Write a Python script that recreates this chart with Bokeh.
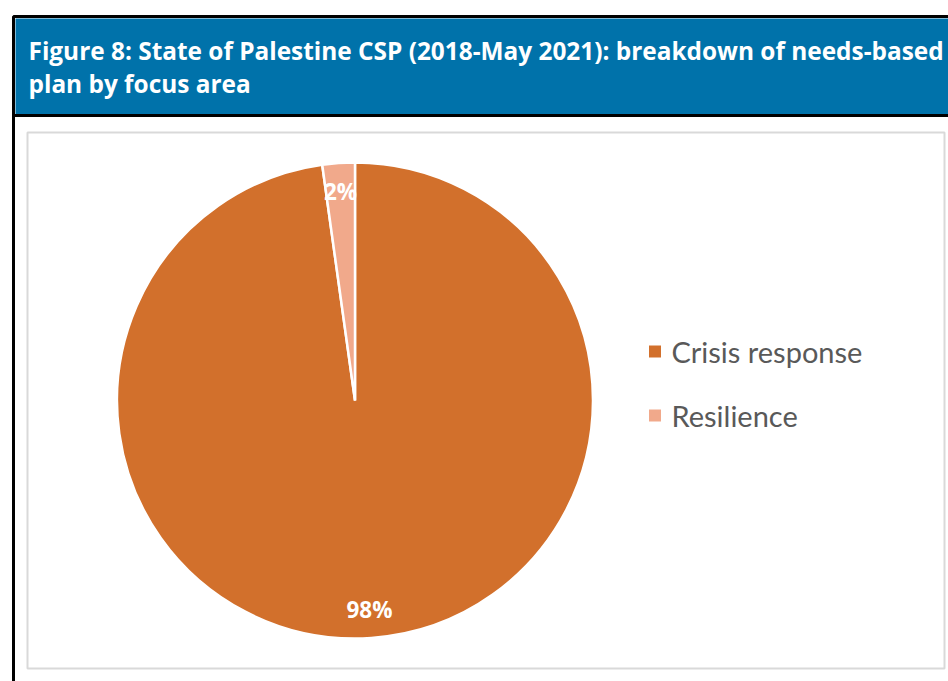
import math
from bokeh.plotting import figure
from bokeh.models import Range1d, ColumnDataSource
from bokeh.core.properties import value
from bokeh.embed import file_html
from bokeh.resources import INLINE

# ---- data ----
title_lines = ["Figure 8: State of Palestine CSP (2018-May 2021): breakdown of needs-based",
               "plan by focus area"]
categories = ["Crisis response", "Resilience"]
shares = [97.8, 2.2]
labels = ["98%", "2%"]
colors = ["#D2702C", "#F1A98B"]

W, H = 948, 681
def Y(py):
    return H - py

p = figure(width=W, height=H, x_range=Range1d(0, W), y_range=Range1d(0, H),
           output_backend="svg", toolbar_location=None, min_border=0)
p.axis.visible = False
p.grid.visible = False
p.outline_line_color = None
p.background_fill_color = "white"
p.border_fill_color = "white"

# header frame
p.quad(left=[13], right=[W + 5], top=[Y(16)], bottom=[Y(H + 5)], fill_color="white",
       line_color="black", line_width=3)
p.quad(left=[15], right=[W + 5], top=[Y(18)], bottom=[Y(114)], fill_color="#0072AA",
       line_color=None)
p.segment(x0=[13], x1=[W + 5], y0=[Y(115)], y1=[Y(115)], line_color="black", line_width=3)

p.text(x=[28, 28], y=[Y(50), Y(83)], text=title_lines, text_color="white",
       text_font=value("Open Sans"), text_font_style="bold", text_font_size="24.4px",
       text_baseline="middle", text_align="left")

# inner chart box
p.quad(left=[27], right=[944], top=[Y(132)], bottom=[Y(668)], fill_color="white",
       line_color="#D9D9D9", line_width=2)

# pie
cx, cy, R = 354.5, Y(400), 238
total = sum(shares)
starts, ends, lx, ly = [], [], [], []
cum = 0.0
for s in shares:
    a0 = math.pi / 2 - 2 * math.pi * cum / total
    cum += s
    a1 = math.pi / 2 - 2 * math.pi * cum / total
    starts.append(a0)
    ends.append(a1)
    mid = (a0 + a1) / 2
    lx.append(cx + 0.88 * R * math.cos(mid))
    ly.append(cy + 0.88 * R * math.sin(mid))

src = ColumnDataSource(dict(start=starts, end=ends, color=colors, lx=lx, ly=ly, label=labels))
p.wedge(x=cx, y=cy, radius=R, start_angle="start", end_angle="end", direction="clock",
        fill_color="color", line_color="white", line_width=2.5, source=src)
p.text(x="lx", y="ly", text="label", source=src, text_color="white",
       text_font=value("Open Sans"), text_font_style="bold", text_font_size="22.5px",
       text_align="center", text_baseline="middle")

# legend
leg_y = [Y(351), Y(415)]
p.scatter(x=[654.5, 654.5], y=leg_y, marker="square", size=12, fill_color=colors, line_color=None)
p.text(x=[671, 671], y=leg_y, text=categories, text_color="#595959",
       text_font=value("Lato"), text_font_size="29px", text_align="left",
       text_baseline="middle")

open("out.html", "w").write(file_html(p, INLINE))
